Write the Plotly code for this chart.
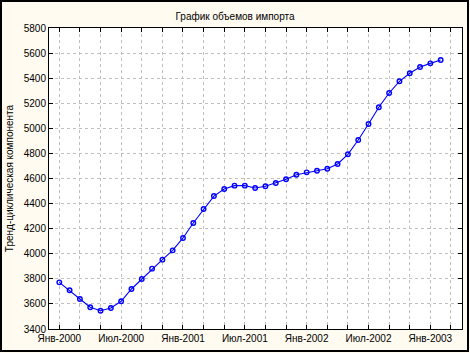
import plotly.graph_objects as go

# Monthly index 0 = Янв-2000 ... 37 = Фев-2003
month_index = list(range(38))
trend_values = [3772, 3709, 3639, 3573, 3546, 3567, 3621, 3719, 3799, 3881,
                3953, 4027, 4126, 4245, 4357, 4460, 4516, 4543, 4543, 4524,
                4538, 4564, 4594, 4630, 4649, 4662, 4678, 4716, 4793, 4907,
                5034, 5168, 5282, 5375, 5439, 5489, 5518, 5545]

tick_positions = list(range(0, 40, 2))
label_positions = [0, 6, 12, 18, 24, 30, 36]
label_texts = ["Янв-2000", "Июл-2000", "Янв-2001", "Июл-2001",
               "Янв-2002", "Июл-2002", "Янв-2003"]
tick_texts = [label_texts[label_positions.index(p)] if p in label_positions else ""
              for p in tick_positions]

y_ticks = list(range(3400, 5801, 200))

title_text = "График объемов импорта"
y_title = "Тренд-циклическая компонента"

FONT = "Liberation Sans"
W, H = 470, 353
ML, MR, MT, MB = 49, 8, 28, 24

fig = go.Figure()
fig.add_trace(go.Scatter(
    x=month_index, y=trend_values, mode="lines+markers",
    line=dict(color="#0000ff", width=1.1),
    marker=dict(symbol="circle-open", size=4.5, color="#0000ff",
                line=dict(width=1.4, color="#0000ff")),
    showlegend=False,
))

pw = W - ML - MR
ph = H - MT - MB
# outer black frame around the whole picture
fig.add_shape(type="rect", xref="paper", yref="paper",
              x0=(1 - ML) / pw, x1=(W - 2 - ML) / pw,
              y0=-(H - 2 - MT - ph) / ph, y1=1 + (MT - 1) / ph,
              line=dict(color="black", width=2), layer="below")

fig.update_layout(
    width=W, height=H,
    margin=dict(l=ML, r=MR, t=MT, b=MB),
    paper_bgcolor="#fffbf0",
    plot_bgcolor="white",
    font=dict(family=FONT, size=10, color="black"),
    title=dict(text=title_text, x=(235) / W, xanchor="center",
               y=1 - 16 / H, yanchor="middle", yref="container",
               font=dict(family=FONT, size=10, color="black")),
)
fig.update_xaxes(
    range=[-1, 39.07],
    tickmode="array", tickvals=tick_positions, ticktext=tick_texts,
    ticks="inside", ticklen=4, tickcolor="black",
    showline=True, linecolor="black", linewidth=1, mirror="ticks",
    showgrid=True, gridcolor="#c0c0c0", griddash="dot", gridwidth=1,
    zeroline=False, tickfont=dict(size=10, family=FONT),
)
fig.update_yaxes(
    range=[3400, 5800],
    tickmode="array", tickvals=y_ticks,
    ticks="inside", ticklen=4, tickcolor="black",
    showline=True, linecolor="black", linewidth=1, mirror="ticks",
    showgrid=True, gridcolor="#c0c0c0", griddash="dot", gridwidth=1,
    zeroline=False, tickfont=dict(size=10, family=FONT),
    title=dict(text=y_title, standoff=8, font=dict(size=10, family=FONT)),
)

fig.write_html("out.html")
